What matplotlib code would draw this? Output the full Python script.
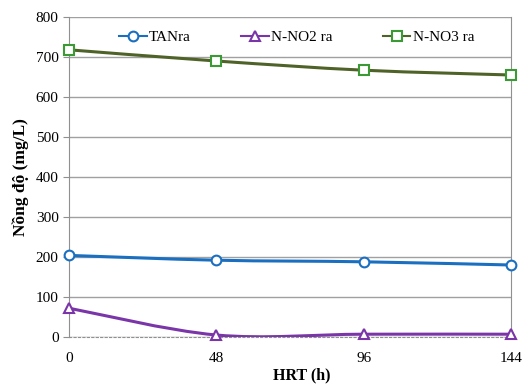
import numpy as np
import matplotlib.pyplot as plt
from matplotlib.path import Path
from matplotlib.patches import PathPatch

hrt = [0, 48, 96, 144]
tan = [204, 192, 188, 180]
no2 = [72, 5, 7, 7]
no3 = [718, 690, 667, 655]

plt.rcParams['font.family'] = ['Liberation Serif', 'DejaVu Serif']


def smooth_path(x, y):
    # excel-like smoothed line: catmull-rom segments as cubic bezier
    pts = np.column_stack([x, y]).astype(float)
    n = len(pts)
    verts = [pts[0]]
    codes = [Path.MOVETO]
    for i in range(n - 1):
        p0 = pts[i - 1] if i > 0 else pts[i]
        p1 = pts[i]
        p2 = pts[i + 1]
        p3 = pts[i + 2] if i + 2 < n else pts[i + 1]
        c1 = p1 + (p2 - p0) / 6.0
        c2 = p2 - (p3 - p1) / 6.0
        verts += [c1, c2, p2]
        codes += [Path.CURVE4] * 3
    return Path(verts, codes)


fig = plt.figure(figsize=(5.22, 3.85), dpi=100)
ax = fig.add_axes([69 / 522, 1 - 337 / 385, (511 - 69) / 522, (337 - 17) / 385])

series = [
    (tan, 'TANra', '#1a6fc0', '#1a6fc0', 'o'),
    (no2, 'N-NO2 ra', '#7a35a8', '#7a35a8', '^'),
    (no3, 'N-NO3 ra', '#4f6228', '#3c9a35', 's'),
]
for y, lab, lc, mc, m in series:
    ax.add_patch(PathPatch(smooth_path(hrt, y), fill=False, ec=lc, lw=2.2, zorder=3))
    ax.plot(hrt, y, ls='none', marker=m, ms=7, mfc='white', mec=mc, mew=1.5,
            clip_on=False, zorder=4)
    ax.plot([], [], color=lc, lw=1.5, marker=m, ms=7, mfc='white', mec=mc,
            mew=1.5, label=lab)

ax.set_xlim(0, 144)
ax.set_ylim(0, 800)
ax.set_xticks(hrt)
ax.set_yticks(range(0, 801, 100))
ax.yaxis.grid(True, color='#a0a0a0', lw=1)
ax.set_axisbelow(True)
ax.spines['top'].set_visible(False)
for s in ['left', 'bottom', 'right']:
    ax.spines[s].set_color('#909090')
ax.spines['bottom'].set_linestyle((0, (2, 2)))
ax.tick_params(axis='both', colors='#909090', labelcolor='black', labelsize=11,
               length=4, direction='out')
ax.tick_params(axis='x', length=0, pad=11)
ax.set_xlabel('HRT (h)', fontsize=11.5, fontweight='bold', labelpad=0)
ax.xaxis.set_label_coords(0.527, -0.095)
ax.set_ylabel('Nồng độ (mg/L)', fontsize=12.5, fontweight='bold', labelpad=5)
ax.legend(loc='upper center', ncol=3, frameon=False, fontsize=11,
          bbox_to_anchor=(0.515, 1.0), columnspacing=3.3, handlelength=1.8,
          handletextpad=0.15)

fig.savefig('out.png', dpi=100)
